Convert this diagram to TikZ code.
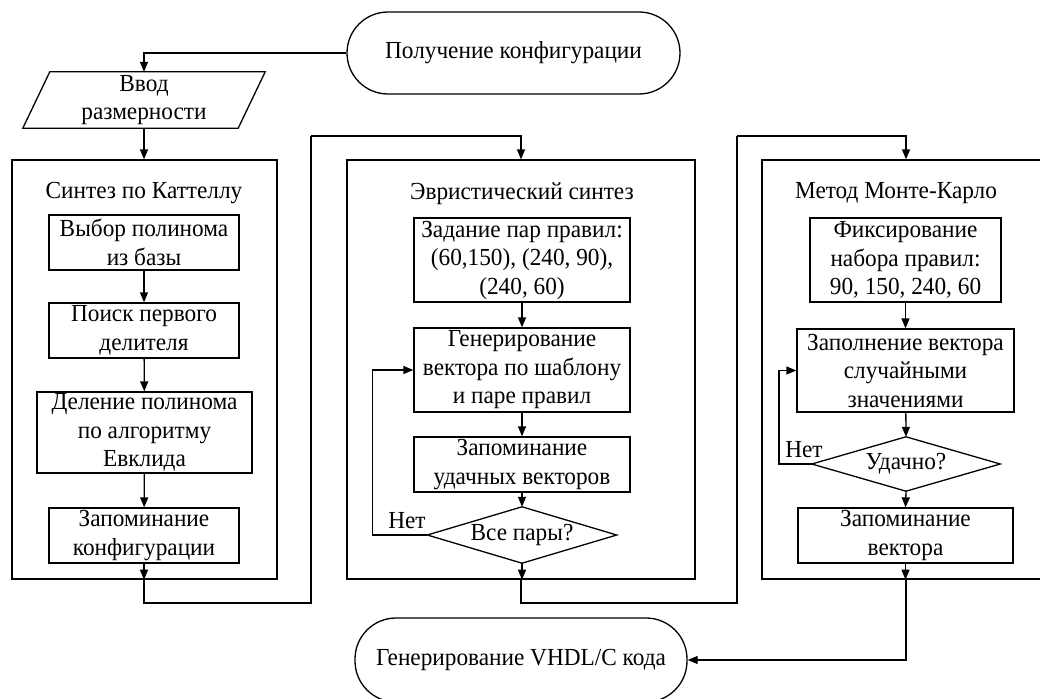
\documentclass[tikz,border=0pt]{standalone}
\usepackage{fontspec}
\setmainfont{Liberation Serif}[FakeStretch=0.95]
\usetikzlibrary{arrows.meta}
\tikzset{
  ln/.style={line width=1.3pt},
  arr/.style={ln, -{Triangle[length=10pt,width=8pt]}},
  blk/.style={draw, ln, align=center, inner sep=0pt},
  term/.style={draw, ln, align=center, inner sep=0pt, rounded corners=41pt},
  frm/.style={draw, ln, inner sep=0pt},
  txt/.style={align=center, inner sep=0pt},
}
\begin{document}
\begin{tikzpicture}[x=1pt,y=-1pt,font=\fontsize{24.5}{28.5}\selectfont]
\clip (0,0) rectangle (1040,698);
% terminators
\node[term, minimum width=333pt, minimum height=82pt] (start) at (513.5,53) {Получение конфигурации};
\node[term, minimum width=332pt, minimum height=84pt] (end) at (521,660) {Генерирование VHDL/C кода};
% input
\node[txt, minimum width=215pt, minimum height=56pt] (inp) at (144,100) {Ввод\\размерности};
\draw[ln] ([xshift=13.5pt]inp.north west) -- ([xshift=13.5pt]inp.north east) -- ([xshift=-13.5pt]inp.south east) -- ([xshift=-13.5pt]inp.south west) -- cycle;
% frames
\node[frm, minimum width=265pt, minimum height=419pt] (f1) at (144.5,369.5) {};
\node[frm, minimum width=348pt, minimum height=419pt] (f2) at (521,369.5) {};
\node[frm, minimum width=288pt, minimum height=419pt] (f3) at (906,369.5) {};
\node[txt] (t1) at (144,193) {Синтез по Каттеллу};
\node[txt] (t2) at (522,194) {Эвристический синтез};
\node[txt] (t3) at (896,193) {Метод Монте-Карло};
% box 1
\node[blk, minimum width=190pt, minimum height=55pt] (b1) at (144,242.5) {Выбор полинома\\из базы};
\node[blk, minimum width=190pt, minimum height=55pt] (b2) at (144,330.5) {Поиск первого\\делителя};
\node[blk, minimum width=215pt, minimum height=81pt] (b3) at (144.5,432.5) {Деление полинома\\по алгоритму\\Евклида};
\node[blk, minimum width=190pt, minimum height=55pt] (b4) at (144,535.5) {Запоминание\\конфигурации};
% box 2
\node[blk, minimum width=216pt, minimum height=84pt] (c1) at (522,260) {Задание пар правил:\\(60,150), (240, 90),\\(240, 60)};
\node[blk, minimum width=216pt, minimum height=84pt] (c2) at (522,370) {Генерирование\\вектора по шаблону\\и паре правил};
\node[blk, minimum width=216pt, minimum height=55pt] (c3) at (522,464.5) {Запоминание\\удачных векторов};
\node[txt, minimum width=189pt, minimum height=56pt] (d1) at (522,535) {Все пары?};
\draw[ln] (d1.north) -- (d1.east) -- (d1.south) -- (d1.west) -- cycle;
\node[txt] (n1) at (407,521) {Нет};
% box 3
\node[blk, minimum width=191pt, minimum height=84pt] (e1) at (905.5,260) {Фиксирование\\набора правил:\\90, 150, 240, 60};
\node[blk, minimum width=217pt, minimum height=83pt] (e2) at (905.5,370.5) {Заполнение вектора\\случайными\\значениями};
\node[txt, minimum width=188pt, minimum height=54pt] (d2) at (906,464) {Удачно?};
\draw[ln] (d2.north) -- (d2.east) -- (d2.south) -- (d2.west) -- cycle;
\node[txt] (n2) at (804,450) {Нет};
\node[blk, minimum width=215pt, minimum height=55pt] (e3) at (905.5,535.5) {Запоминание\\вектора};
% bend coordinates
\coordinate (j1) at (311,603);
\coordinate (j2) at (311,136);
\coordinate (k1) at (737,603);
\coordinate (k2) at (737,136);
\coordinate (l1) at (372.5,535);
\coordinate (m1) at (779,464);
% connectors
\draw[arr] (start.west) -| (inp.north);
\draw[arr] (inp.south) -- (inp.south |- f1.north);
\draw[arr] (b1) -- (b2);
\draw[arr] (b2) -- (b3);
\draw[arr] (b3) -- (b4);
\draw[arr] (b4.south) -- (b4.south |- f1.south);
\draw[ln] (b4.south |- f1.south) |- (j1) -- (j2);
\draw[arr] (j2) -| (f2.north);
\draw[arr] (c1) -- (c2);
\draw[arr] (c2) -- (c3);
\draw[arr] (c3) -- (d1.north);
\draw[arr] (d1.south) -- (d1.south |- f2.south);
\draw[arr] (d1.west) -- (l1) |- (c2.west);
\draw[ln] (f2.south) |- (k1) -- (k2);
\draw[arr] (k2) -| (f3.north);
\draw[arr] (e1) -- (e2);
\draw[arr] (e2) -- (d2.north);
\draw[arr] (d2.south) -- (e3.north);
\draw[arr] (d2.west) -- (m1) |- (e2.west);
\draw[arr] (e3.south) -- (e3.south |- f3.south);
\draw[arr] (f3.south) |- (end.east);
\end{tikzpicture}
\end{document}
